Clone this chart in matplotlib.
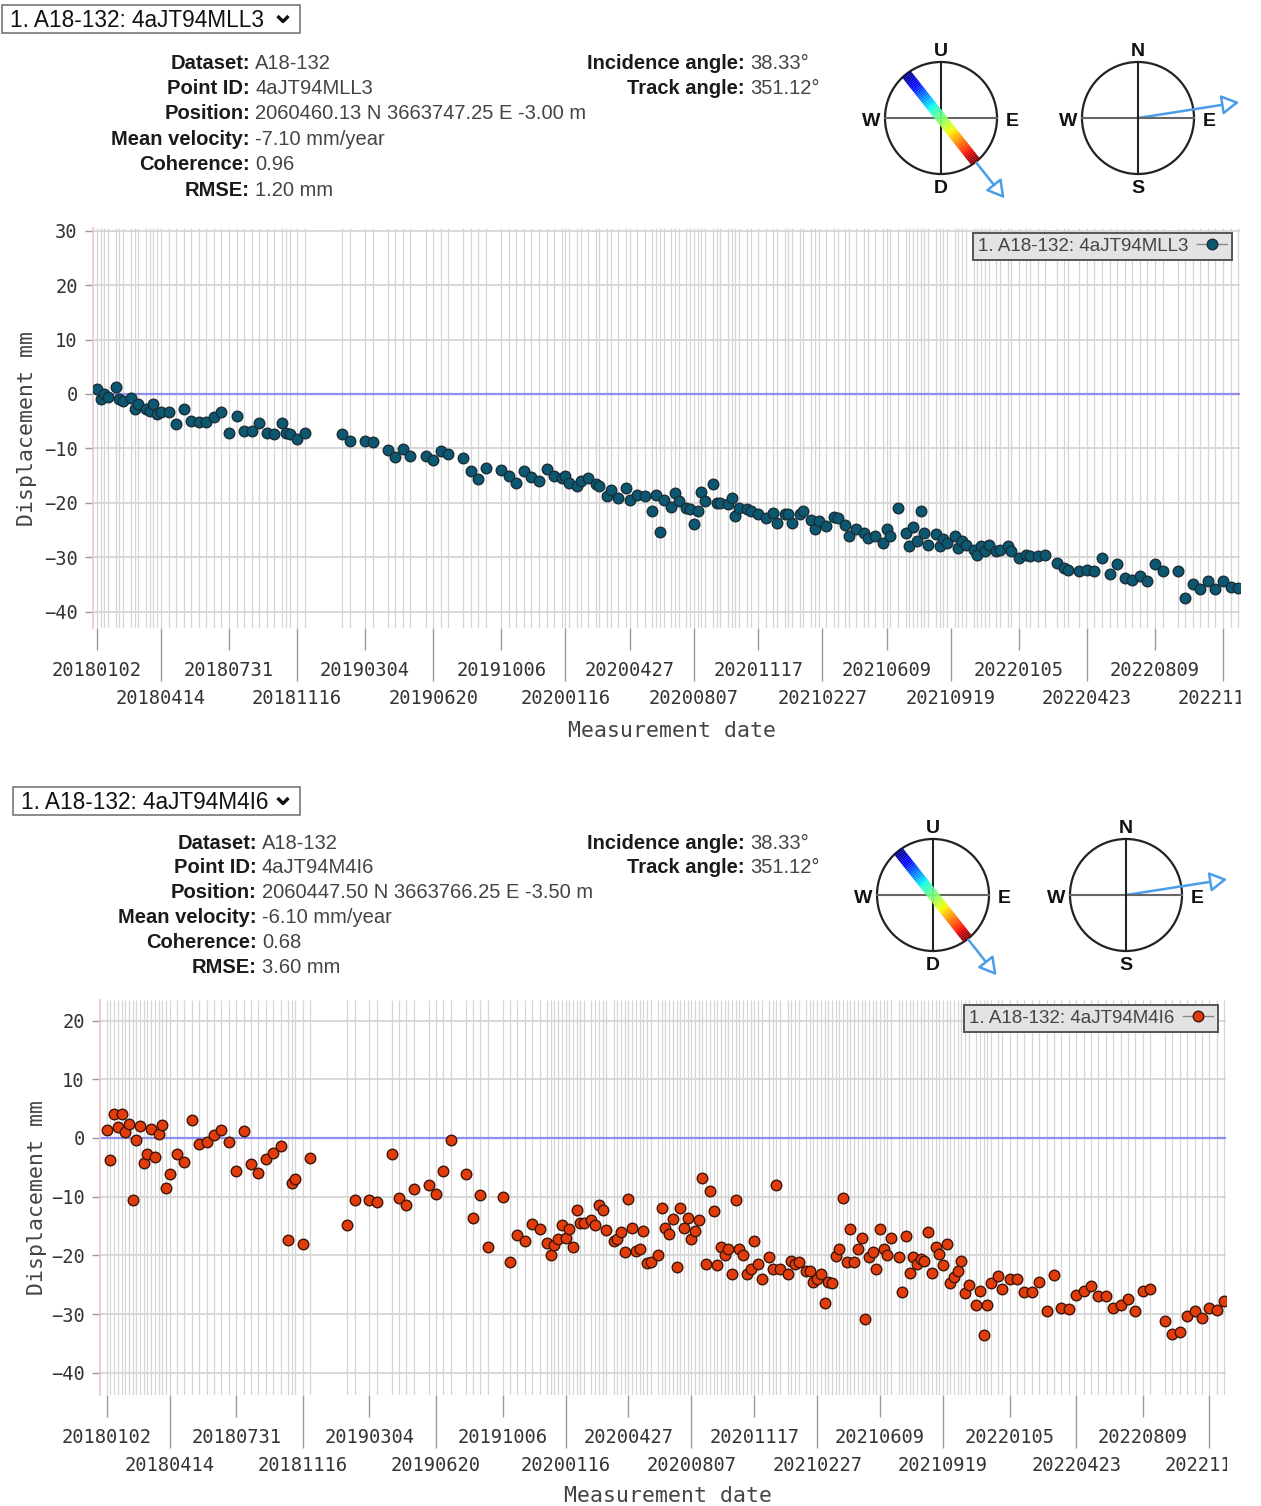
import numpy as np
import matplotlib
matplotlib.use('Agg')
import matplotlib.pyplot as plt
from matplotlib.lines import Line2D
from matplotlib.patches import Circle, Rectangle, FancyArrowPatch
from matplotlib.collections import LineCollection
from matplotlib.transforms import Bbox, TransformedBbox

plt.rcParams['font.family'] = ['DejaVu Sans Mono']

W, H = 1261, 1506

# ---------------- data ----------------
first_date = np.datetime64('2018-01-02')   # x values are days since this acquisition

top_name = '1. A18-132: 4aJT94MLL3'
top_info = [('Dataset:', 'A18-132'), ('Point ID:', '4aJT94MLL3'),
            ('Position:', '2060460.13 N 3663747.25 E -3.00 m'),
            ('Mean velocity:', '-7.10 mm/year'), ('Coherence:', '0.96'),
            ('RMSE:', '1.20 mm')]
top_days = [0, 6, 12, 18, 30, 36, 42, 54, 60, 66, 78, 84, 90, 96, 102, 114, 126, 138, 150, 162,
            174, 186, 198, 210, 222, 234, 246, 258, 270, 282, 294, 300, 306, 318, 330,
            390, 402, 426, 438, 462, 474, 486, 498, 522, 534, 546, 558, 582, 594, 606, 618, 642,
            654, 666, 678, 690, 702, 714, 726, 738, 744, 750, 762, 768, 780, 792, 798, 810, 816,
            828, 840, 846, 858,
            870, 882, 888, 894, 900, 912, 918, 924, 936, 942, 948, 954, 960, 966, 978, 984, 990,
            1002, 1008, 1014, 1020, 1032, 1038, 1050, 1062, 1074, 1080, 1092, 1098, 1104, 1116,
            1122, 1134, 1140, 1146, 1158, 1170, 1176, 1188, 1194, 1206, 1218, 1224, 1236, 1248,
            1254, 1260, 1272, 1284, 1290, 1296, 1302, 1308, 1314, 1320, 1332, 1338, 1344, 1350,
            1362, 1368, 1374, 1380, 1392, 1398, 1404, 1410, 1416, 1428, 1434, 1446, 1452, 1464,
            1476, 1482, 1494, 1506, 1524, 1536, 1542, 1560, 1572, 1584, 1596, 1608, 1620, 1632,
            1644, 1656, 1668, 1680, 1692, 1716, 1728, 1740, 1752, 1764, 1776, 1788, 1800, 1812]
top_disp = [0.9, -1.0, 0.0, -0.5, 1.2, -1.0, -1.3, -0.7, -2.7, -1.8, -2.7, -3.1, -1.8, -3.6, -3.4,
            -3.3, -5.5, -2.8, -5.0, -5.2, -5.2, -4.2, -3.4, -7.2, -4.0, -6.8, -6.8, -5.3, -7.2,
            -7.4, -5.3, -7.2, -7.4, -8.2, -7.1,
            -7.4, -8.7, -8.7, -8.8, -10.3, -11.5, -10.2, -11.4, -11.4, -12.1, -10.5, -11.0, -11.7,
            -14.2, -15.7, -13.6, -14.0, -15.1, -16.3, -14.2, -15.3, -15.9, -13.7, -15.1, -15.4,
            -15.1, -16.3, -16.9, -16.0, -15.5, -16.6, -16.9, -18.8, -17.7, -19.1, -17.2, -19.4,
            -18.5,
            -18.8, -21.5, -18.5, -25.4, -19.4, -20.8, -18.2, -19.7, -20.9, -21.2, -23.9, -21.5,
            -18.0, -19.6, -16.6, -20.0, -20.0, -20.3, -19.1, -22.5, -20.9, -21.2, -21.5, -22.1,
            -22.8, -21.8, -23.7, -22.1, -22.1, -23.7, -22.1, -21.5, -23.1, -24.9, -23.4, -24.3,
            -22.6, -22.8, -24.0, -26.1, -24.9, -25.5, -26.4, -26.1, -27.4, -24.9, -26.1, -20.9,
            -25.5, -28.0, -24.5, -27.0, -21.5, -25.5, -27.7, -25.8, -28.0, -26.7, -27.4, -26.1,
            -28.3, -27.0, -27.7, -28.6, -29.5, -28.0, -28.9, -27.7, -28.9, -28.6, -28.0, -28.9,
            -30.1, -29.5, -29.8, -29.8, -29.5, -31.0, -32.0, -32.3, -32.6, -32.3, -32.6, -30.2,
            -33.0, -31.2, -33.8, -34.1, -33.5, -34.3, -31.3, -32.5, -32.6, -37.5, -35.0, -35.9,
            -34.3, -35.9, -34.3, -35.5, -35.6]

bot_name = '1. A18-132: 4aJT94M4I6'
bot_info = [('Dataset:', 'A18-132'), ('Point ID:', '4aJT94M4I6'),
            ('Position:', '2060447.50 N 3663766.25 E -3.50 m'),
            ('Mean velocity:', '-6.10 mm/year'), ('Coherence:', '0.68'),
            ('RMSE:', '3.60 mm')]
bot_days = [0, 6, 12, 18, 24, 30, 36, 42, 48, 54, 60, 66, 72, 78, 84, 90, 96, 102, 114, 126,
            138, 150, 162, 174, 186, 198, 210, 222, 234, 246, 258, 270, 282, 294, 300, 306, 318,
            330,
            390, 402, 426, 438, 462, 474, 486, 498, 522, 534, 546, 558, 582, 594, 606, 618, 642,
            654, 666, 678, 690, 702, 714, 720, 726, 732, 738, 744, 750, 756, 762, 768, 774, 786,
            792, 798, 804, 810, 822, 828, 834, 840, 846, 852, 858,
            864, 870, 876, 882, 894, 900, 906, 912, 918, 924, 930, 936, 942, 948, 954, 960, 966,
            972, 978, 984, 990, 996, 1002, 1008, 1014, 1020, 1026, 1032, 1038, 1044, 1050, 1056,
            1062, 1074, 1080, 1086, 1092, 1104, 1110, 1116, 1122, 1134, 1140, 1146, 1152, 1158,
            1164, 1170, 1176, 1182, 1188, 1194, 1200, 1206, 1212, 1218, 1224, 1230, 1236, 1242,
            1248, 1254, 1260, 1266, 1272, 1284, 1290, 1296, 1302, 1308, 1314, 1320, 1326, 1332,
            1338, 1344, 1350, 1356, 1362, 1368, 1374, 1380, 1386, 1392, 1398, 1410, 1416, 1422,
            1428, 1434, 1446, 1452, 1464, 1476, 1488, 1500, 1512, 1524, 1536, 1548, 1560, 1572,
            1584, 1596, 1608, 1620, 1632, 1644, 1656, 1668, 1680, 1692, 1716, 1728, 1740, 1752,
            1764, 1776, 1788, 1800, 1812]
bot_disp = [1.4, -3.7, 4.1, 1.9, 4.0, 1.0, 2.3, -10.6, -0.3, 2.1, -4.3, -2.8, 1.5, -3.3, 0.6,
            2.2, -8.5, -6.2, -2.7, -4.1, 3.1, -1.0, -0.7, 0.5, 1.3, -0.7, -5.7, 1.1, -4.5, -5.9,
            -3.6, -2.6, -1.4, -17.4, -7.7, -7.0, -18.0, -3.4,
            -14.8, -10.6, -10.6, -11.0, -2.7, -10.2, -11.4, -8.7, -8.1, -9.5, -5.7, -0.3, -6.1,
            -13.6, -9.8, -18.5, -10.1, -21.2, -16.5, -17.6, -14.7, -15.5, -17.9, -20.0, -18.2,
            -17.2, -14.9, -17.0, -15.6, -18.5, -12.3, -14.5, -14.5, -13.9, -14.9, -11.5, -12.3,
            -15.7, -17.6, -17.3, -16.1, -19.4, -10.4, -15.3, -19.3,
            -19.0, -15.9, -21.3, -21.1, -20.0, -11.9, -15.3, -16.4, -13.8, -22.0, -11.9, -15.3,
            -13.6, -17.2, -15.9, -13.9, -6.9, -21.4, -9.1, -12.4, -21.7, -18.6, -20.0, -19.0,
            -23.2, -10.5, -18.9, -20.0, -23.1, -22.3, -17.6, -21.4, -24.1, -20.3, -22.3, -8.1,
            -22.4, -23.1, -21.0, -21.5, -21.1, -22.6, -22.7, -24.5, -24.1, -23.2, -28.2, -24.5,
            -24.8, -20.2, -18.9, -10.3, -21.1, -15.6, -21.1, -19.0, -17.0, -30.8, -20.3, -19.5,
            -22.3, -15.6, -18.9, -20.0, -17.0, -20.3, -26.3, -16.7, -23.0, -20.3, -21.5, -20.7,
            -21.0, -16.0, -23.0, -18.5, -19.8, -21.7, -18.0, -24.7, -23.7, -22.7, -21.0, -26.4,
            -25.1, -28.5, -26.0, -33.6, -28.5, -24.8, -23.6, -25.7, -24.0, -24.0, -26.3, -26.3,
            -24.5, -29.5, -23.4, -29.0, -29.1, -26.8, -26.0, -25.3, -27.0, -27.0, -29.0, -28.4,
            -27.4, -29.5, -26.0, -25.7, -31.2, -33.4, -33.1, -30.4, -29.5, -30.6, -28.9, -29.4,
            -27.7]

incidence_angle = 38.33
track_angle = 351.12

tick_row1 = ['20180102', '20180731', '20190304', '20191006', '20200427', '20201117',
             '20210609', '20220105', '20220809']
tick_row2 = ['20180414', '20181116', '20190620', '20200116', '20200807', '20210227',
             '20210919', '20220423', '20221125']


def day_of(s):
    d = np.datetime64(f'{s[:4]}-{s[4:6]}-{s[6:]}')
    return int((d - first_date).astype(int))


SANS = 'Liberation Sans'
fig = plt.figure(figsize=(W / 100, H / 100), dpi=100)
ov = fig.add_axes([0, 0, 1, 1])
ov.set_xlim(0, W)
ov.set_ylim(H, 0)
ov.axis('off')


def header(y0, box, name, info, lab_x, row_dy):
    bx, by, bw, bh = box
    ov.add_patch(Rectangle((bx, by), bw, bh, fill=False, ec='#777777', lw=1.2))
    ov.text(bx + 8, by + bh / 2 + 1, name, family=SANS, fontsize=16.3, ha='left', va='center',
            color='#111111')
    cx = bx + bw - 17
    cy = by + bh / 2
    ov.plot([cx - 5.5, cx, cx + 5.5], [cy - 3, cy + 2.5, cy - 3], color='#111111', lw=2.4,
            solid_capstyle='butt')
    for i, (lab, val) in enumerate(info):
        y = y0 + i * row_dy
        ov.text(lab_x, y, lab, family=SANS, fontsize=14.5, fontweight='bold', ha='right',
                va='center', color='#1a1a1a')
        ov.text(lab_x + 5, y, val, family=SANS, fontsize=14.5, ha='left', va='center',
                color='#444444')
    ang = [('Incidence angle:', f'{incidence_angle:.2f}°'), ('Track angle:', f'{track_angle:.2f}°')]
    for i, (lab, val) in enumerate(ang):
        y = y0 + i * row_dy
        ov.text(745, y, lab, family=SANS, fontsize=14.5, fontweight='bold', ha='right',
                va='center', color='#1a1a1a')
        ov.text(750, y, val, family=SANS, fontsize=14.5, ha='left', va='center', color='#444444')


def compass_los(cx, cy, R=56):
    ov.add_patch(Circle((cx, cy), R, fill=False, ec='#222222', lw=1.6))
    ov.plot([cx - R, cx + R], [cy, cy], color='#666666', lw=1.5)
    ov.plot([cx, cx], [cy - R, cy + R], color='#222222', lw=1.5)
    th = np.radians(incidence_angle)
    u = np.array([np.sin(th), np.cos(th)])
    t = np.linspace(-R, R, 61)
    pts = np.array([[cx, cy]]) + t[:, None] * u[None, :]
    segs = np.stack([pts[:-1], pts[1:]], axis=1)
    lc = LineCollection(segs, colors=plt.cm.jet(np.linspace(0, 1, len(segs))), lw=7.8,
                        capstyle='butt')
    ov.add_collection(lc)
    p0 = (cx + R * u[0], cy + R * u[1])
    p1 = (cx + 1.83 * R * u[0], cy + 1.83 * R * u[1])
    ov.add_patch(FancyArrowPatch(p0, p1, arrowstyle='-|>,head_length=0.7,head_width=0.4',
                                 mutation_scale=15, lw=1.8, ec='#4a9de8', fc='white',
                                 shrinkA=0, shrinkB=0))
    for s, dx, dy in [('U', 0, -67), ('D', 0, 70), ('W', -70, 3), ('E', 71, 3)]:
        ov.text(cx + dx, cy + dy, s, family=SANS, fontsize=14, fontweight='bold',
                ha='center', va='center', color='#111111')


def compass_map(cx, cy, R=56):
    ov.add_patch(Circle((cx, cy), R, fill=False, ec='#222222', lw=1.6))
    ov.plot([cx - R, cx + R], [cy, cy], color='#666666', lw=1.5)
    ov.plot([cx, cx], [cy - R, cy + R], color='#222222', lw=1.5)
    a = np.radians(track_angle + 90)
    p1 = (cx + 1.83 * R * np.sin(a), cy - 1.83 * R * np.cos(a))
    ov.add_patch(FancyArrowPatch((cx, cy), p1, arrowstyle='-|>,head_length=0.7,head_width=0.4',
                                 mutation_scale=15, lw=1.8, ec='#4a9de8', fc='white',
                                 shrinkA=0, shrinkB=0))
    for s, dx, dy in [('N', 0, -67), ('S', 0, 70), ('W', -70, 3), ('E', 71, 3)]:
        ov.text(cx + dx, cy + dy, s, family=SANS, fontsize=14, fontweight='bold',
                ha='center', va='center', color='#111111')


def chart(rect, days, disp, ylim, xlim, yticks, fc, ec, name, ylab_x, xlab_y):
    l, t, r, b = rect
    ax = fig.add_axes([l / W, 1 - b / H, (r - l) / W, (b - t) / H])
    ax.set_xlim(*xlim)
    ax.set_ylim(*ylim)
    ax.vlines(days, ylim[0], ylim[1], color='#d5d5d5', lw=0.9, zorder=0)
    ax.set_yticks(yticks)
    ax.yaxis.grid(True, color='#d6d6d6', lw=1.3)
    ax.set_axisbelow(True)
    ax.axhline(0, color='#8e8ef0', lw=1.6, zorder=1)
    ax.plot(days, disp, 'o', ls='none', ms=7.6, mfc=fc, mec=ec, mew=1.0, zorder=3)
    for s in ['top', 'right', 'bottom']:
        ax.spines[s].set_visible(False)
    ax.spines['left'].set_color('#f2c4c4')
    ax.spines['left'].set_linewidth(1.2)

    ax.set_xticks([day_of(s) for s in tick_row1])
    ax.set_xticklabels(tick_row1)
    ax.set_xticks([day_of(s) for s in tick_row2], minor=True)
    ax.set_xticklabels(tick_row2, minor=True)
    ax.tick_params(axis='x', which='major', length=16, width=1, color='#9a9a9a', pad=8,
                   labelsize=13.5, labelcolor='#333333')
    ax.tick_params(axis='x', which='minor', length=38, width=1, color='#9a9a9a', pad=6,
                   labelsize=13.5, labelcolor='#333333')
    ax.tick_params(axis='y', length=6, width=1, color='#9a9a9a', pad=5, labelsize=13.5,
                   labelcolor='#333333')
    # the last date label is cut at the right edge of the plot, as in the web view
    clip = TransformedBbox(Bbox.from_extents(0, 0, (r + 1) / W, 1), fig.transFigure)
    for tk in ax.xaxis.get_major_ticks() + ax.xaxis.get_minor_ticks():
        tk.label1.set_clip_on(True)
        tk.label1.set_clip_box(clip)

    h = Line2D([], [], color='#8a8a8a', lw=1, marker='o', ms=7.6, mfc=fc, mec=ec)
    leg = ax.legend([h], [name], loc='upper right', bbox_to_anchor=(1 - 8 / (r - l), 1 - 5 / (b - t)),
                    markerfirst=False, frameon=True, fancybox=False, edgecolor='#555555',
                    facecolor='#e3e3e3', framealpha=1, prop={'family': SANS, 'size': 13.5},
                    handlelength=1.6, borderpad=0.25, handletextpad=0.5, borderaxespad=0)
    leg.get_frame().set_linewidth(1.4)
    for tx in leg.get_texts():
        tx.set_color('#444444')

    ov.text(ylab_x, (t + b) / 2, 'Displacement mm', rotation=90, ha='center', va='center',
            fontsize=15.5, color='#444444')
    ov.text((l + r) / 2 + 5, xlab_y, 'Measurement date', ha='center', va='center',
            fontsize=15.5, color='#444444')
    return ax


# ---- top panel ----
header(63, (2, 5, 298, 28), top_name, top_info, 250, 25.4)
compass_los(941, 118)
compass_map(1138, 118)
chart((93, 228, 1240, 628), top_days, top_disp, (-43.0, 30.5), (-6, 1815),
      [30, 20, 10, 0, -10, -20, -30, -40], '#0c5873', '#1b2e35', top_name, 27, 731)

# ---- bottom panel ----
header(843, (13, 787, 287, 28), bot_name, bot_info, 257, 24.8)
compass_los(933, 895)
compass_map(1126, 895)
chart((100, 1000, 1226, 1395), bot_days, bot_disp, (-43.8, 23.5), (-11, 1815),
      [20, 10, 0, -10, -20, -30, -40], '#e23c0c', '#3d1608', bot_name, 37, 1496)

fig.savefig('out.png', dpi=100)
